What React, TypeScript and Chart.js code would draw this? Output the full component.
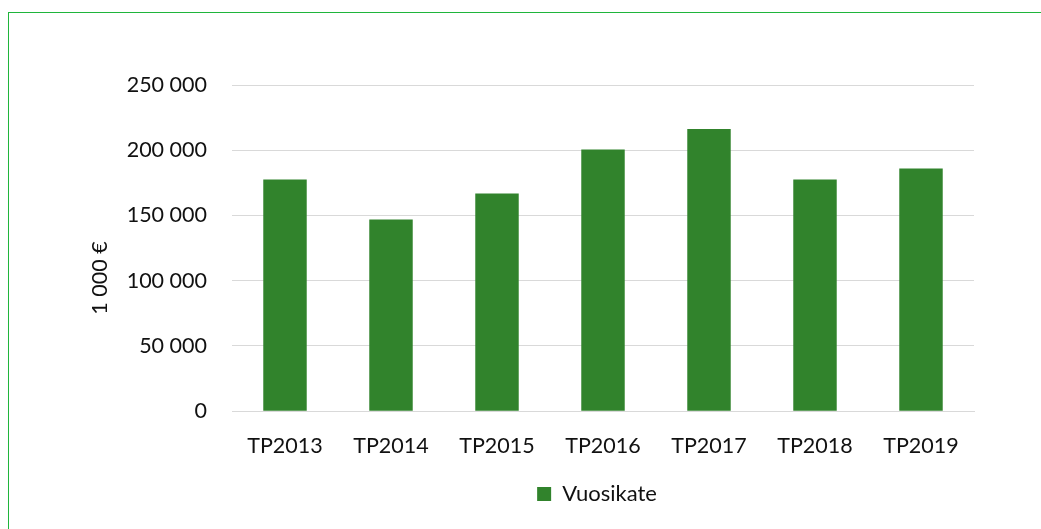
import React, { useEffect, useRef } from "react";
import { Chart, registerables } from "chart.js";

Chart.register(...registerables);

const categories = ["TP2013", "TP2014", "TP2015", "TP2016", "TP2017", "TP2018", "TP2019"];
const vuosikate = [177600, 147000, 166800, 200600, 216200, 177600, 186000];
const seriesLabel = "Vuosikate";
const yTitle = "1 000 €";
const yMax = 250000;
const yStep = 50000;

const FONT = "Lato, 'Noto Sans', sans-serif";
const TEXT = "#111";

function fmt(v: number): string {
  return String(Math.round(v)).replace(/\B(?=(\d{3})+(?!\d))/g, " ");
}

const layoutTweaks = {
  id: "layoutTweaks",
  afterLayout(chart: any) {
    const lg = chart.legend;
    const ca = chart.chartArea;
    if (lg && ca) {
      const want = (ca.left + ca.right) / 2 - 6;
      const cur = (lg.left + lg.right) / 2;
      const d = want - cur;
      lg.left += d;
      lg.right += d;
    }
  },
  afterDraw(chart: any) {
    const ctx = chart.ctx;
    ctx.save();
    ctx.translate(100, 278);
    ctx.rotate(-Math.PI / 2);
    ctx.font = `21.5px ${FONT}`;
    ctx.fillStyle = TEXT;
    ctx.textAlign = "center";
    ctx.textBaseline = "middle";
    ctx.fillText(yTitle, 0, 0);
    ctx.restore();
  },
};

export default function App() {
  const ref = useRef<HTMLCanvasElement | null>(null);
  useEffect(() => {
    if (!ref.current) return;
    const chart = new Chart(ref.current, {
      type: "bar",
      data: {
        labels: categories,
        datasets: [
          {
            label: seriesLabel,
            data: vuosikate,
            backgroundColor: "#31832c",
            borderWidth: 0,
            barPercentage: 0.41,
            categoryPercentage: 1,
          },
        ],
      },
      plugins: [layoutTweaks],
      options: {
        responsive: false,
        animation: false,
        layout: { padding: { left: 78, right: 67, top: 85, bottom: 14 } },
        plugins: {
          legend: {
            position: "bottom",
            labels: {
              color: TEXT,
              font: { family: FONT, size: 22 },
              boxWidth: 14,
              boxHeight: 14,
              padding: 10,
            },
          },
          tooltip: { enabled: false },
        },
        scales: {
          x: {
            grid: { display: false },
            border: { display: true, color: "#d9d9d9", width: 1 },
            ticks: { color: TEXT, font: { family: FONT, size: 21.5 }, padding: 14, maxRotation: 0 },
          },
          y: {
            min: 0,
            max: yMax,
            border: { display: false },
            grid: { color: "#d9d9d9", drawTicks: false, lineWidth: 1 },
            ticks: {
              stepSize: yStep,
              color: TEXT,
              font: { family: FONT, size: 21.5 },
              padding: 25,
              callback: (v: any) => fmt(Number(v)),
            },
            title: { display: false },
            afterFit: (scale: any) => {
              scale.width = 154;
            },
          },
        },
      },
    });
    return () => chart.destroy();
  }, []);
  return (
    <div style={{ position: "absolute", left: 0, top: 0, width: 1041, height: 529 }}>
      <div
        style={{
          position: "absolute",
          left: 8,
          top: 12,
          width: 1100,
          height: 600,
          border: "1.5px solid #1fb53b",
          boxSizing: "border-box",
        }}
      />
      <canvas
        ref={ref}
        width={1041}
        height={529}
        style={{ position: "absolute", left: 0, top: 0, width: 1041, height: 529 }}
      />
    </div>
  );
}
